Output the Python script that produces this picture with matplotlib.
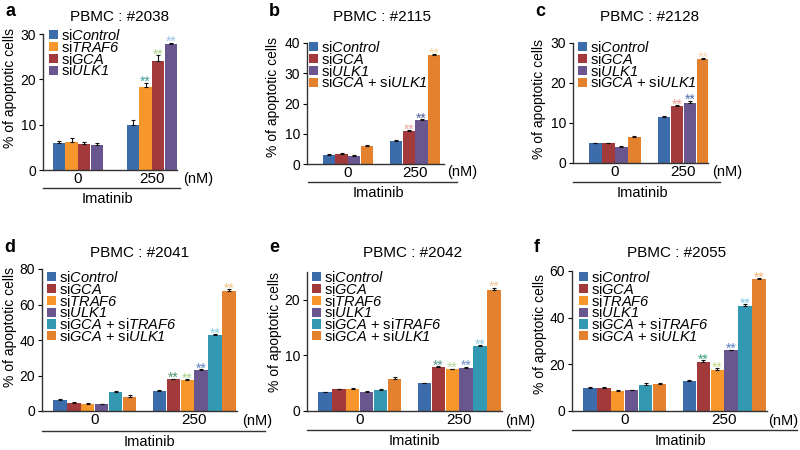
import matplotlib
matplotlib.use('Agg')
import matplotlib.pyplot as plt
import numpy as np
from matplotlib.lines import Line2D

plt.rcParams['font.family'] = ['Liberation Sans', 'DejaVu Sans']
# gene names are italic, digits included, so math roman is italic too
plt.rcParams['mathtext.fontset'] = 'custom'
plt.rcParams['mathtext.rm'] = 'Liberation Sans:italic'
plt.rcParams['mathtext.it'] = 'Liberation Sans:italic'

W, H = 800, 450

# colours of the siRNA conditions
C_CTRL = '#3C6DAA'
C_GCA = '#A23A3C'
C_TRAF6 = '#F7962A'
C_ULK1 = '#6A568F'
C_GCA_TRAF6 = '#3399B3'
C_GCA_ULK1 = '#E3812F'

L_CTRL = 'si$\\mathit{Control}$'
L_GCA = 'si$\\mathit{GCA}$'
L_TRAF6 = 'si$\\mathit{TRAF6}$'
L_ULK1 = 'si$\\mathit{ULK1}$'
L_GCA_TRAF6 = 'si$\\mathit{GCA}$ + si$\\mathit{TRAF6}$'
L_GCA_ULK1 = 'si$\\mathit{GCA}$ + si$\\mathit{ULK1}$'

doses = ['0', '250']

# panel a : PBMC #2038
a_labels = [L_CTRL, L_TRAF6, L_GCA, L_ULK1]
a_colors = [C_CTRL, C_TRAF6, C_GCA, C_ULK1]
a_vals = [[6.0, 10.0], [6.2, 18.3], [5.8, 24.0], [5.6, 27.7]]
a_err = [[0.3, 1.0], [0.8, 1.0], [0.3, 1.3], [0.4, 0.4]]
a_stars = [None, '#4FA39A', '#A8D08D', '#9DC3E6']

# panel b : PBMC #2115
b_labels = [L_CTRL, L_GCA, L_ULK1, L_GCA_ULK1]
b_colors = [C_CTRL, C_GCA, C_ULK1, C_GCA_ULK1]
b_vals = [[3.1, 7.5], [3.2, 11.0], [2.8, 14.5], [5.9, 36.0]]
b_err = [[0.2, 0.4], [0.4, 0.3], [0.3, 0.3], [0.3, 0.3]]
b_stars = [None, '#F4A6A6', '#4F5F9A', '#F5D9A0']

# panel c : PBMC #2128
c_labels = [L_CTRL, L_GCA, L_ULK1, L_GCA_ULK1]
c_colors = [C_CTRL, C_GCA, C_ULK1, C_GCA_ULK1]
c_vals = [[5.0, 11.6], [5.0, 14.2], [4.0, 15.0], [6.5, 26.0]]
c_err = [[0.1, 0.2], [0.1, 0.3], [0.2, 0.6], [0.2, 0.2]]
c_stars = [None, '#EBA08F', '#4D6FAE', '#FAD7B5']

six_labels = [L_CTRL, L_GCA, L_TRAF6, L_ULK1, L_GCA_TRAF6, L_GCA_ULK1]
six_colors = [C_CTRL, C_GCA, C_TRAF6, C_ULK1, C_GCA_TRAF6, C_GCA_ULK1]

# panel d : PBMC #2041
d_vals = [[6.2, 11.5], [4.5, 17.8], [4.0, 17.5], [3.8, 23.0], [10.8, 43.0], [8.0, 67.5]]
d_err = [[0.4, 0.3], [0.5, 0.4], [0.3, 0.4], [0.4, 0.4], [0.4, 0.4], [1.0, 1.0]]
d_stars = [None, '#4E9A6A', '#A9D18E', '#5B85C0', '#8CCDE0', '#F3C58E']

# panel e : PBMC #2042
e_vals = [[3.4, 5.0], [3.9, 7.9], [4.0, 7.5], [3.5, 7.8], [3.8, 11.7], [5.7, 21.8]]
e_err = [[0.1, 0.1], [0.1, 0.2], [0.2, 0.1], [0.1, 0.2], [0.1, 0.1], [0.5, 0.4]]
e_stars = [None, '#5B9C8A', '#B5D79B', '#6D8FC9', '#8FCBE0', '#F2C79A']

# panel f : PBMC #2055
f_vals = [[10.0, 13.0], [9.8, 21.0], [8.5, 17.5], [8.8, 26.0], [11.0, 44.8], [11.7, 56.5]]
f_err = [[0.3, 0.5], [0.3, 0.8], [0.3, 0.8], [0.4, 0.3], [1.0, 1.0], [0.4, 0.3]]
f_stars = [None, '#3FA37D', '#C2D985', '#5B80C2', '#7EC8E3', '#F4B77A']

fig = plt.figure(figsize=(8, 4.5), dpi=100)


def fx(x):
    return x / W


def fy(y):
    return 1 - y / H


def panel(letter, title, box, xlim, width, ylim, yticks, labels, colors,
          vals, errs, stars, title_pos, leg_pos, under, ylab):
    x0, x1, yt, yb = box
    ax = fig.add_axes([fx(x0), fy(yb), (x1 - x0) / W, (yb - yt) / H])
    n = len(vals)
    for i in range(n):
        xs = np.arange(2) + (i - (n - 1) / 2) * width
        ax.bar(xs, vals[i], width * 0.96, color=colors[i], label=labels[i],
               yerr=[[0, 0], errs[i]], capsize=1.5,
               error_kw=dict(ecolor='#111111', elinewidth=0.8, capthick=0.8))
        if stars[i] is not None:
            top = vals[i][1] + errs[i][1]
            ax.annotate('**', (xs[1], top), xytext=(0, -2.5),
                        textcoords='offset points', ha='center',
                        va='baseline', fontsize=10, color=stars[i])
    ax.set_xlim(*xlim)
    ax.set_ylim(*ylim)
    ax.set_yticks(yticks)
    ax.set_xticks([0, 1])
    ax.set_xticklabels(doses)
    ax.tick_params(axis='x', length=0, pad=1.5, labelsize=11)
    ax.tick_params(axis='y', length=3, width=0.8, pad=2, labelsize=10)
    for s in ['top', 'right']:
        ax.spines[s].set_visible(False)
    for s in ['left', 'bottom']:
        ax.spines[s].set_linewidth(1.0)
        ax.spines[s].set_color('#333333')
    ax.set_ylabel('% of apoptotic cells', fontsize=10)
    ax.yaxis.set_label_coords((ylab[0] - x0) / (x1 - x0), ylab[1])
    ax.legend(loc='upper left',
              bbox_to_anchor=(fx(leg_pos[0]), fy(leg_pos[1])),
              bbox_transform=fig.transFigure, frameon=False,
              fontsize=10.5, handlelength=0.6, handleheight=0.6,
              handletextpad=0.2, labelspacing=-0.22, borderpad=0,
              borderaxespad=0)
    fig.text(fx(title_pos[0]), fy(title_pos[1]), title, ha='center',
             va='center', fontsize=11)
    fig.text(fx(box[0] - 38), fy(title_pos[1] - 5), letter, ha='left',
             va='center', fontsize=13, fontweight='bold')
    ux0, ux1, uy, lab_y, nm_x = under
    fig.text(fx(nm_x), fy(lab_y), '(nM)', ha='center', va='center',
             fontsize=10.5)
    fig.add_artist(Line2D([fx(ux0), fx(ux1)], [fy(uy), fy(uy)],
                          color='#333333', linewidth=1.0))
    fig.text(fx((ux0 + ux1) / 2 - 4), fy(uy + 11), 'Imatinib', ha='center',
             va='center', fontsize=10.5)
    return ax


panel('a', 'PBMC : #2038', (43, 177, 34, 170), (-0.47, 1.34), 0.17,
      (0, 30), [0, 10, 20, 30], a_labels, a_colors, a_vals, a_err, a_stars,
      (120, 17), (49, 28), (43, 180, 188, 179, 198), (17, 0.6))
panel('b', 'PBMC : #2115', (307, 444, 43, 164), (-0.61, 1.43), 0.19,
      (0, 40), [0, 10, 20, 30, 40], b_labels, b_colors, b_vals, b_err,
      b_stars, (382, 17), (309, 40), (308, 457, 182, 172, 462), (280, 0.55))
panel('c', 'PBMC : #2128', (573, 708, 43, 163), (-0.61, 1.36), 0.19,
      (0, 30), [0, 10, 20, 30], c_labels, c_colors, c_vals, c_err, c_stars,
      (650, 17), (578, 40), (573, 720, 182, 172, 727), (546, 0.53))
panel('d', 'PBMC : #2041', (42, 237, 269, 411), (-0.53, 1.43), 0.14,
      (0, 80), [0, 20, 40, 60, 80], six_labels, six_colors, d_vals, d_err,
      d_stars, (140, 253), (47, 270), (42, 265, 431, 421, 257), (17, 0.59))
panel('e', 'PBMC : #2042', (307, 502, 272, 411), (-0.53, 1.43), 0.14,
      (0, 25), [0, 10, 20], six_labels, six_colors, e_vals, e_err, e_stars,
      (413, 253), (312, 270), (307, 530, 430, 421, 520), (282, 0.57))
panel('f', 'PBMC : #2055', (572, 767, 271, 411), (-0.53, 1.43), 0.14,
      (0, 60), [0, 20, 40, 60], six_labels, six_colors, f_vals, f_err,
      f_stars, (677, 253), (579, 270), (572, 797, 430, 421, 783), (547, 0.55))

fig.savefig('out.png', dpi=100)
